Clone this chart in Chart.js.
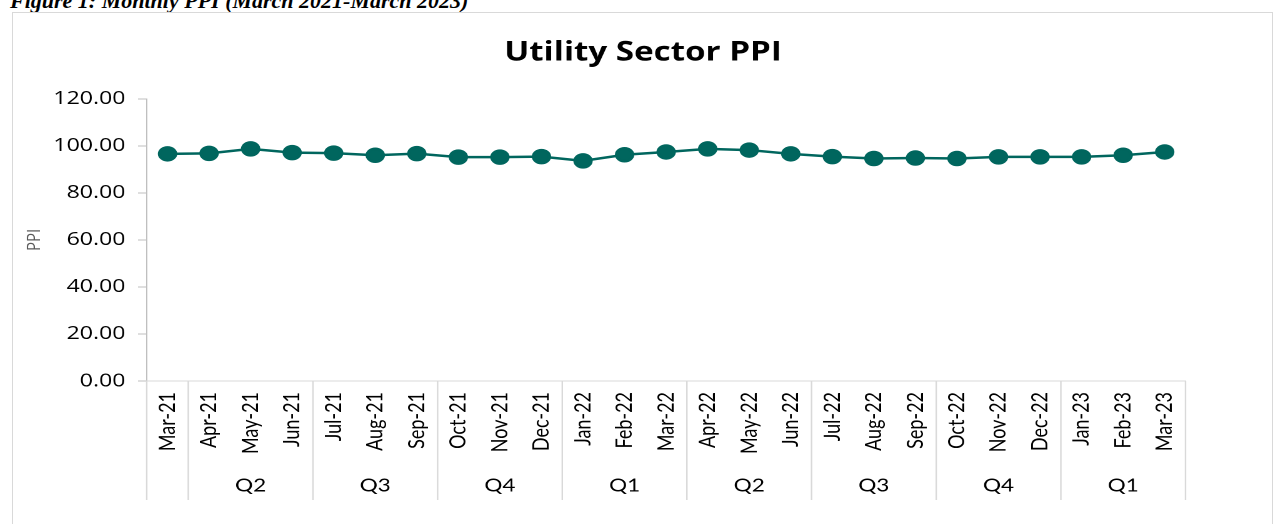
<!DOCTYPE html>
<html>
<head>
<meta charset="utf-8">
<script src="https://cdn.jsdelivr.net/npm/chart.js"></script>
<style>
  html, body { margin: 0; padding: 0; background: #fff; overflow: hidden; }
  body { width: 1277px; height: 524px; position: relative; }
  .caption { position: absolute; left: 10px; top: -10px; font: italic bold 22px "Liberation Serif", serif; line-height: 22px; white-space: nowrap; }
  .frame { position: absolute; left: 12px; top: 12px; width: 1261px; height: 520px; border: 1px solid #d9d9d9; box-sizing: border-box; }
  .stretch { position: absolute; left: 13px; top: 13px; width: 1008px; height: 511px; transform: scaleX(1.25); transform-origin: 0 0; }
</style>
</head>
<body>
<div class="caption">Figure 1: Monthly PPI (March 2021-March 2023)</div>
<div class="frame"></div>
<div class="stretch"><canvas id="chart" width="1008" height="511"></canvas></div>
<script>
var months = ['Mar-21', 'Apr-21', 'May-21', 'Jun-21', 'Jul-21', 'Aug-21', 'Sep-21', 'Oct-21', 'Nov-21', 'Dec-21',
  'Jan-22', 'Feb-22', 'Mar-22', 'Apr-22', 'May-22', 'Jun-22', 'Jul-22', 'Aug-22', 'Sep-22', 'Oct-22', 'Nov-22', 'Dec-22',
  'Jan-23', 'Feb-23', 'Mar-23'];
var quarters = ['', 'Q2', 'Q2', 'Q2', 'Q3', 'Q3', 'Q3', 'Q4', 'Q4', 'Q4', 'Q1', 'Q1', 'Q1',
  'Q2', 'Q2', 'Q2', 'Q3', 'Q3', 'Q3', 'Q4', 'Q4', 'Q4', 'Q1', 'Q1', 'Q1'];
var ppi = [96.6, 96.8, 98.7, 97.1, 96.9, 96.0, 96.7, 95.2, 95.2, 95.4, 93.6, 96.2, 97.4,
  98.7, 98.2, 96.6, 95.4, 94.6, 94.8, 94.6, 95.3, 95.3, 95.3, 96.0, 97.4];
var yMin = 0, yMax = 120, yStep = 20;

// quarter name goes under the middle month of each run
var quarterLabels = months.map(function(){ return ''; });
(function(){
  var start = 0;
  for (var i = 1; i <= quarters.length; i++) {
    if (i === quarters.length || quarters[i] !== quarters[start]) {
      quarterLabels[Math.floor((start + i - 1) / 2)] = quarters[start];
      start = i;
    }
  }
})();

var separators = {
  id: 'separators',
  afterDraw: function(chart) {
    var x = chart.scales.x, ctx = chart.ctx;
    var half = (x.getPixelForValue(1) - x.getPixelForValue(0)) / 2;
    var top = x.top, bottom = chart.scales.xq.bottom;
    ctx.save();
    ctx.strokeStyle = '#d9d9d9';
    ctx.lineWidth = 1.2;
    ctx.beginPath();
    quarters.forEach(function(q, i){
      if (i === 0 || q !== quarters[i - 1]) {
        var px = x.getPixelForValue(i) - half;
        ctx.moveTo(px, top); ctx.lineTo(px, bottom);
      }
    });
    var last = x.getPixelForValue(quarters.length - 1) + half;
    ctx.moveTo(last, top); ctx.lineTo(last, bottom);
    ctx.stroke();
    ctx.restore();
  }
};

new Chart(document.getElementById('chart'), {
  type: 'line',
  data: {
    labels: months,
    datasets: [{
      data: ppi,
      xAxisID: 'x',
      yAxisID: 'y',
      borderColor: '#00665e',
      backgroundColor: '#00665e',
      borderWidth: 2.5,
      pointRadius: 6.5,
      pointHoverRadius: 6.5,
      tension: 0
    }]
  },
  options: {
    responsive: false,
    animation: false,
    devicePixelRatio: 2,
    layout: { padding: { left: 0, right: 0, top: 0, bottom: 24 } },
    plugins: {
      legend: { display: false },
      tooltip: { enabled: false },
      title: {
        display: true,
        text: 'Utility Sector PPI',
        color: '#000',
        font: { family: 'Open Sans', size: 26.5, weight: 'bold' },
        padding: { top: 24, bottom: 30 }
      }
    },
    scales: {
      y: {
        min: yMin, max: yMax,
        ticks: {
          stepSize: yStep,
          callback: function(v){ return v.toFixed(2); },
          color: '#000',
          font: { family: 'Open Sans', size: 18.5 },
          padding: 10
        },
        grid: { drawOnChartArea: false, tickLength: 7, color: '#bfbfbf' },
        border: { color: '#bfbfbf' },
        title: { display: true, text: 'PPI', color: '#595959', font: { family: 'Open Sans', size: 15 }, padding: { top: 8, bottom: 0 } },
        afterFit: function(s){ s.width = 107; }
      },
      // empty right-hand axis, only keeps the gap on the right of the plot
      yr: {
        position: 'right',
        min: yMin, max: yMax,
        grid: { display: false },
        border: { display: false },
        ticks: { display: false },
        afterFit: function(s){ s.width = 70; }
      },
      x: {
        offset: true,
        ticks: { autoSkip: false, minRotation: 90, maxRotation: 90, color: '#000', font: { family: 'Lato', size: 18 }, padding: 3 },
        grid: { display: false },
        border: { color: '#d9d9d9' },
        afterFit: function(s){ s.height = 84; }
      },
      xq: {
        type: 'category',
        labels: quarterLabels,
        position: 'bottom',
        offset: true,
        grid: { display: false },
        border: { display: false },
        ticks: { autoSkip: false, maxRotation: 0, color: '#000', font: { family: 'Lato', size: 18 }, padding: 2 },
        afterFit: function(s){ s.height = 35; }
      }
    }
  },
  plugins: [separators]
});
</script>
</body>
</html>
